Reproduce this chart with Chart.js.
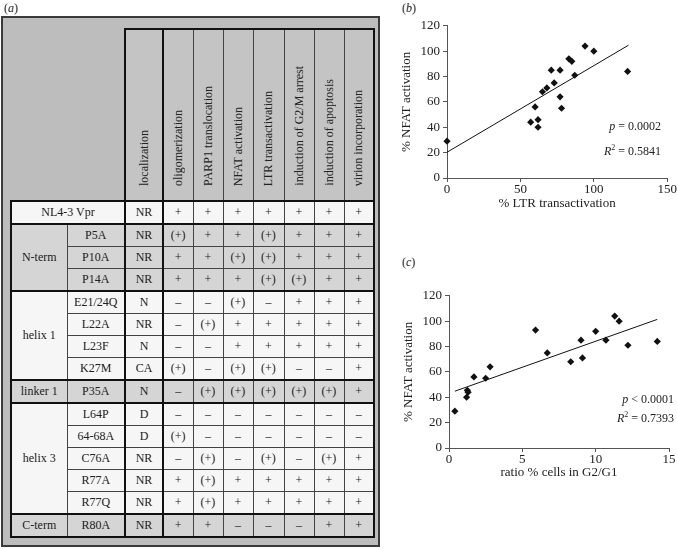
<!DOCTYPE html>
<html lang="en">
<head>
<meta charset="UTF-8">
<title>Vpr mutants</title>
<script src="https://cdn.jsdelivr.net/npm/chart.js"></script>
<style>
    body { margin: 0; width: 677px; height: 549px; background: #fff; position: relative; overflow: hidden;
           font-family: "Liberation Serif", "DejaVu Serif", serif; color: #222; }
    .folha { position: absolute; left: 0; top: 0; width: 677px; height: 549px; background: #fff; filter: grayscale(1); }
    .lbl { position: absolute; font-size: 12px; }
    .box { position: absolute; left: 1px; top: 16px; width: 375px; height: 527px; background: #bdbdbd;
           border: 2px solid #3a3a3a; }
    table { position: absolute; left: 10px; top: 28px; border-collapse: collapse; table-layout: fixed; font-size: 12px; }
    td { border: 1px solid #444; padding: 0; text-align: center; height: 21px; white-space: nowrap; }
    td.g { border-width: 2px; border-color: #111; }
    .hd td { height: 170px; background: #c4c4c4; vertical-align: bottom; border-top: 2px solid #111; }
    .hd td.blank { background: transparent; border: none; }
    .hd span { writing-mode: vertical-rl; transform: rotate(180deg); display: inline-block; padding-top: 10px; }
    tr.grey td { background: #d5d5d5; }
    tr.white td { background: #f4f6f8; }
    tr.first td { border-top: 2px solid #111; }
    td.mut { border-right: 2px solid #111; }
    td.last { border-right: 2px solid #111; }
    .chart { position: absolute; }
    .stat { position: absolute; font-size: 12px; text-align: right; white-space: nowrap; }
</style>
</head>
<body>
<div class="folha">

<div class="lbl" style="left:4px; top:1px;">(<i>a</i>)</div>
<div class="lbl" style="left:402px; top:1px;">(<i>b</i>)</div>
<div class="lbl" style="left:402px; top:255px;">(<i>c</i>)</div>

<div class="box"></div>
<table id="tabela"></table>

<div class="chart" style="left:395px; top:15px; width:282px; height:200px;"><canvas id="graficoB"></canvas></div>
<div class="chart" style="left:397px; top:285px; width:280px; height:199px;"><canvas id="graficoC"></canvas></div>

<div class="stat" style="right:16px; top:119px;"><i>p</i> = 0.0002</div>
<div class="stat" style="right:16px; top:143px;"><i>R</i><sup style="font-size:8px">2</sup> = 0.5841</div>
<div class="stat" style="right:3px; top:392px;"><i>p</i> &lt; 0.0001</div>
<div class="stat" style="right:3px; top:410px;"><i>R</i><sup style="font-size:8px">2</sup> = 0.7393</div>

</div>

<script>
    // tabela (a)
    const colunas = ['localization', 'oligomerization', 'PARP1 translocation', 'NFAT activation',
        'LTR transactivation', 'induction of G2/M arrest', 'induction of apoptosis', 'virion incorporation']

    const grupos = [
        { nome: 'NL4-3 Vpr', cor: 'white', linhas: [['', 'NR', '+', '+', '+', '+', '+', '+', '+']] },
        { nome: 'N-term', cor: 'grey', linhas: [
            ['P5A', 'NR', '(+)', '+', '+', '(+)', '+', '+', '+'],
            ['P10A', 'NR', '+', '+', '(+)', '(+)', '+', '+', '+'],
            ['P14A', 'NR', '+', '+', '+', '(+)', '(+)', '+', '+']] },
        { nome: 'helix 1', cor: 'white', linhas: [
            ['E21/24Q', 'N', '–', '–', '(+)', '–', '+', '+', '+'],
            ['L22A', 'NR', '–', '(+)', '+', '+', '+', '+', '+'],
            ['L23F', 'N', '–', '–', '+', '+', '+', '+', '+'],
            ['K27M', 'CA', '(+)', '–', '(+)', '(+)', '–', '–', '+']] },
        { nome: 'linker 1', cor: 'grey', linhas: [
            ['P35A', 'N', '–', '(+)', '(+)', '(+)', '(+)', '(+)', '+']] },
        { nome: 'helix 3', cor: 'white', linhas: [
            ['L64P', 'D', '–', '–', '–', '–', '–', '–', '–'],
            ['64-68A', 'D', '(+)', '–', '–', '–', '–', '–', '–'],
            ['C76A', 'NR', '–', '(+)', '–', '(+)', '–', '(+)', '+'],
            ['R77A', 'NR', '+', '(+)', '+', '+', '+', '+', '+'],
            ['R77Q', 'NR', '+', '(+)', '+', '+', '+', '+', '+']] },
        { nome: 'C-term', cor: 'grey', linhas: [
            ['R80A', 'NR', '+', '+', '–', '–', '–', '+', '+']] }
    ]

    const larguras = [56, 58, 38, 30, 30, 30, 31, 30, 30, 30]

    function montarTabela() {
        const t = document.getElementById('tabela')
        let html = '<colgroup>'
        for (const w of larguras) html += `<col style="width:${w}px">`
        html += '</colgroup><tr class="hd"><td class="blank" colspan="2"></td>'
        colunas.forEach((c, i) => {
            html += `<td class="${i == 0 ? 'g' : ''}${i == colunas.length - 1 ? ' last' : ''}" style="border-left-width:${i == 0 ? 2 : 1}px"><span>${c}</span></td>`
        })
        html += '</tr>'
        for (const g of grupos) {
            g.linhas.forEach((l, i) => {
                html += `<tr class="${g.cor}${i == 0 ? ' first' : ''}">`
                if (g.nome == 'NL4-3 Vpr') {
                    html += `<td colspan="2" class="mut" style="border-left:2px solid #111">${g.nome}</td>`
                } else {
                    if (i == 0) html += `<td rowspan="${g.linhas.length}" style="border-left:2px solid #111">${g.nome}</td>`
                    html += `<td class="mut">${l[0]}</td>`
                }
                for (let k = 1; k < l.length; k++) {
                    html += `<td class="${k == 1 ? 'mut' : ''}${k == l.length - 1 ? ' last' : ''}">${l[k]}</td>`
                }
                html += '</tr>'
            })
        }
        t.innerHTML = html
        t.querySelector('tr:last-child').querySelectorAll('td').forEach(td => td.style.borderBottom = '2px solid #111')
    }
    montarTabela()

    // grafico (b): % LTR transactivation x % NFAT activation
    const ltrTransativacao = [0, 57, 62, 62, 60, 65, 68, 71, 73, 77, 77, 78, 83, 85, 87, 94, 100, 123]
    const nfatB = [29, 44, 46, 40, 56, 68, 71, 85, 75, 85, 64, 55, 94, 92, 81, 104, 100, 84]
    const tendenciaBx = [0, 123.6]
    const tendenciaBy = [20.3, 104.7]

    // grafico (c): ratio % cells in G2/G1 x % NFAT activation
    const razaoG2G1 = [0.4, 1.2, 1.25, 1.3, 1.7, 2.5, 2.8, 5.9, 6.7, 8.3, 9.0, 9.1, 10.0, 10.7, 11.3, 11.6, 12.2, 14.2]
    const nfatC = [29, 40, 45.5, 44, 56, 55, 64, 93, 75, 68, 85, 71, 92, 85, 104, 100, 81, 84]
    const tendenciaCx = [0.4, 14.2]
    const tendenciaCy = [44.8, 101.4]

    const fonte = { family: '"Liberation Serif", serif', size: 13 }

    function pares(xs, ys) {
        return xs.map((x, i) => ({ x: x, y: ys[i] }))
    }

    function criarGrafico(id, xs, ys, tx, ty, xMax, xPasso, xTitulo, xAltura, padDir) {
        new Chart(document.getElementById(id), {
            type: 'scatter',
            data: {
                datasets: [
                    {
                        data: pares(xs, ys),
                        pointStyle: 'rectRot',
                        pointRadius: 3.6,
                        backgroundColor: '#111',
                        borderColor: '#111',
                        borderWidth: 0,
                        clip: false
                    },
                    {
                        type: 'line',
                        data: pares(tx, ty),
                        borderColor: '#111',
                        borderWidth: 1,
                        pointRadius: 0,
                        fill: false
                    }
                ]
            },
            options: {
                responsive: true,
                maintainAspectRatio: false,
                animation: false,
                layout: { padding: { top: 9, right: padDir, left: 0, bottom: 0 } },
                plugins: { legend: { display: false }, tooltip: { enabled: false } },
                scales: {
                    x: {
                        type: 'linear', min: 0, max: xMax,
                        ticks: { stepSize: xPasso, font: fonte, color: '#222', padding: 0 },
                        grid: { drawOnChartArea: false, tickLength: 4, color: '#555' },
                        border: { color: '#555' },
                        title: { display: true, text: xTitulo, font: fonte, color: '#222' },
                        afterFit: s => { s.height = xAltura }
                    },
                    y: {
                        min: 0, max: 120,
                        ticks: { stepSize: 20, font: fonte, color: '#222', padding: 3 },
                        grid: { drawOnChartArea: false, tickLength: 4, color: '#555' },
                        border: { color: '#555' },
                        title: { display: true, text: '% NFAT activation', font: fonte, color: '#222' },
                        afterFit: s => { s.width = 52 }
                    }
                }
            }
        })
    }

    criarGrafico('graficoB', ltrTransativacao, nfatB, tendenciaBx, tendenciaBy, 150, 50, '% LTR transactivation', 37, 9)
    criarGrafico('graficoC', razaoG2G1, nfatC, tendenciaCx, tendenciaCy, 15, 5, 'ratio % cells in G2/G1', 36, 8)
</script>
</body>
</html>
